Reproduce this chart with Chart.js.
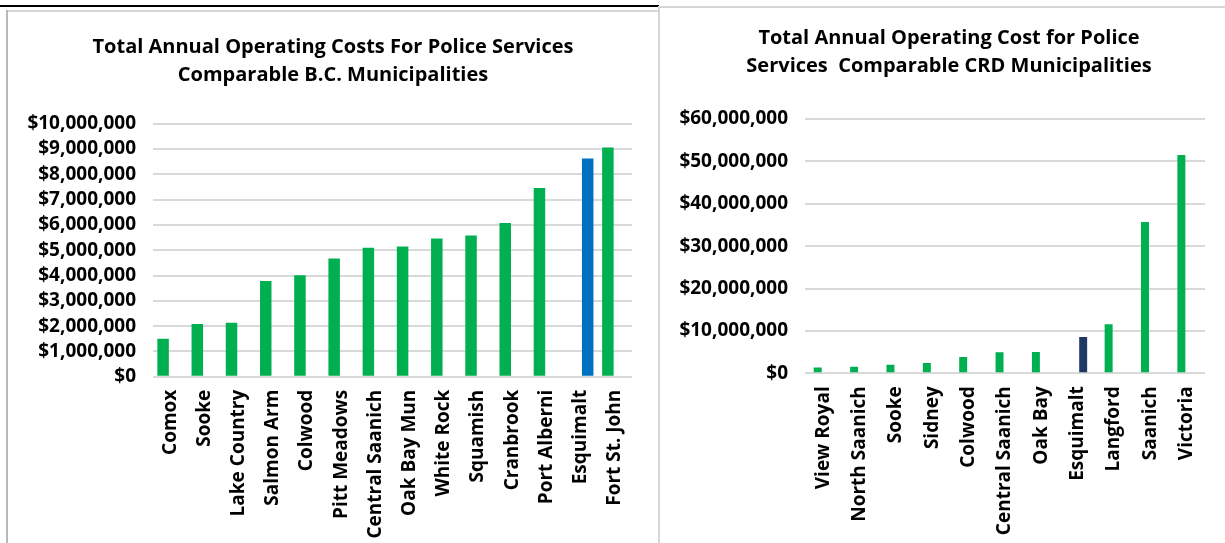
<!DOCTYPE html>
<html>
<head>
<meta charset="utf-8">
<script src="https://cdn.jsdelivr.net/npm/chart.js@4/dist/chart.umd.min.js"></script>
<style>
  html, body { margin: 0; padding: 0; background: #fff; }
  body { width: 1225px; height: 543px; position: relative; overflow: hidden; }
  .rule { position: absolute; }
  #bcChart { position: absolute; left: 8px; top: 12px; }
  #crdChart { position: absolute; left: 661px; top: 8px; }
</style>
</head>
<body>
<!-- panel frames -->
<div class="rule" style="left:0;top:5px;width:659px;height:2px;background:#000"></div>
<div class="rule" style="left:7px;top:10px;width:651px;height:2px;background:#d6d6d6"></div>
<div class="rule" style="left:6px;top:10px;width:2px;height:533px;background:#b8b8b8"></div>
<div class="rule" style="left:658px;top:6px;width:2px;height:537px;background:#d6d6d6"></div>
<div class="rule" style="left:660px;top:6px;width:565px;height:2px;background:#d6d6d6"></div>

<canvas id="bcChart" width="650" height="531"></canvas>
<canvas id="crdChart" width="564" height="535"></canvas>

<script>
// B.C. municipalities
const bcCategories = ['Comox', 'Sooke', 'Lake Country', 'Salmon Arm', 'Colwood', 'Pitt Meadows',
  'Central Saanich', 'Oak Bay Mun', 'White Rock', 'Squamish', 'Cranbrook', 'Port Alberni',
  'Esquimalt', 'Fort St. John'];
const bcCosts = [1500000, 2080000, 2130000, 3780000, 4010000, 4670000, 5100000, 5150000,
  5460000, 5580000, 6080000, 7460000, null, 9060000];
const bcEsquimalt = [null, null, null, null, null, null, null, null, null, null, null, null,
  8620000, null];
const bcTicks = { min: 0, max: 10000000, step: 1000000 };

// CRD municipalities
const crdCategories = ['View Royal', 'North Saanich', 'Sooke', 'Sidney', 'Colwood',
  'Central Saanich', 'Oak Bay', 'Esquimalt', 'Langford', 'Saanich', 'Victoria'];
const crdCosts = [1340000, 1570000, 2000000, 2450000, 3850000, 4950000, 5030000, null,
  11600000, 35700000, 51500000];
const crdEsquimalt = [null, null, null, null, null, null, null, 8570000, null, null, null];
const crdTicks = { min: 0, max: 60000000, step: 10000000 };

const GREEN = '#00B050';
const FONT = '"Open Sans", Lato, sans-serif';

function dollars(v) {
  return '$' + String(Math.round(v)).replace(/\B(?=(\d{3})+(?!\d))/g, ',');
}

function makeChart(id, cfg) {
  return new Chart(document.getElementById(id), {
    type: 'bar',
    data: {
      labels: cfg.labels,
      datasets: [
        { data: cfg.main, backgroundColor: GREEN, borderWidth: 0,
          categoryPercentage: cfg.catPct, barPercentage: cfg.barPct },
        { data: cfg.highlight, backgroundColor: cfg.highlightColor, borderWidth: 0,
          categoryPercentage: cfg.catPct, barPercentage: cfg.barPct }
      ]
    },
    options: {
      responsive: false,
      animation: false,
      devicePixelRatio: 1,
      layout: { padding: { left: cfg.padLeft, right: 0, top: cfg.padTop, bottom: 0 } },
      plugins: {
        legend: { display: false },
        tooltip: { enabled: false },
        title: {
          display: true,
          text: cfg.title,
          color: '#000',
          font: { family: FONT, size: 20, weight: 'bold', lineHeight: 1.4 },
          padding: { top: 0, bottom: cfg.titleGap }
        }
      },
      scales: {
        x: {
          grid: { display: false, drawTicks: false },
          border: { display: false },
          ticks: {
            color: '#000', autoSkip: false, minRotation: 90, maxRotation: 90,
            padding: 13, font: { family: FONT, size: 19, weight: 'bold' }
          },
          afterFit: s => { s.height = cfg.xHeight; }
        },
        y: {
          min: cfg.ticks.min, max: cfg.ticks.max,
          grid: { color: '#d9d9d9', lineWidth: 2, drawTicks: false },
          border: { display: false },
          ticks: {
            color: '#000', stepSize: cfg.ticks.step, padding: 17, autoSkip: false,
            font: { family: FONT, size: 19, weight: 'bold' },
            callback: v => dollars(v)
          },
          afterFit: s => { s.width = cfg.yWidth; }
        },
        // empty right-hand margin so the plot ends short of the panel edge
        gutter: {
          type: 'linear', position: 'right', display: true,
          grid: { display: false, drawTicks: false },
          border: { display: false },
          ticks: { display: false },
          afterFit: s => { s.width = cfg.rightGap; }
        }
      }
    }
  });
}

makeChart('bcChart', {
  labels: bcCategories, main: bcCosts, highlight: bcEsquimalt, highlightColor: '#0070C0',
  title: ['Total Annual Operating Costs For Police Services', 'Comparable B.C. Municipalities'],
  ticks: bcTicks, catPct: 0.82, barPct: 0.82,
  padLeft: 0, padTop: 21, titleGap: 34.7, rightGap: 26, yWidth: 145, xHeight: 166.3
});

makeChart('crdChart', {
  labels: crdCategories, main: crdCosts, highlight: crdEsquimalt, highlightColor: '#1F3864',
  title: ['Total Annual Operating Cost for Police', 'Services  Comparable CRD Municipalities'],
  ticks: crdTicks, catPct: 0.6, barPct: 0.73,
  padLeft: 12, padTop: 16, titleGap: 39, rightGap: 20, yWidth: 132, xHeight: 169.7
});
</script>
</body>
</html>
